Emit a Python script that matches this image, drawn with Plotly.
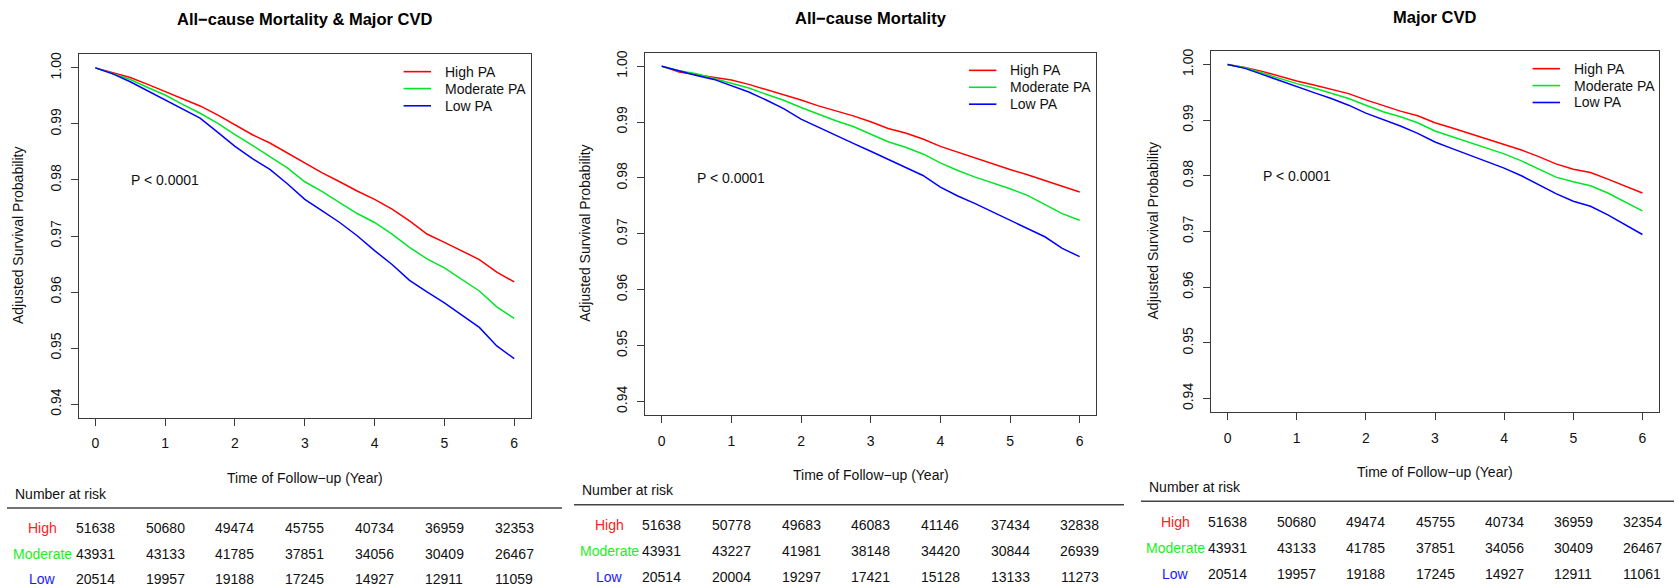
import plotly.graph_objects as go

# Follow-up grid (years) for the adjusted survival curves
years = [0, 0.25, 0.5, 0.75, 1, 1.25, 1.5, 1.75, 2, 2.25, 2.5, 2.75, 3,
         3.25, 3.5, 3.75, 4, 4.25, 4.5, 4.75, 5, 5.25, 5.5, 5.75, 6]

# All-cause mortality & major CVD
combined_high = [1.0, 0.99917, 0.99829, 0.99705, 0.99575, 0.99451, 0.99321, 0.99161, 0.98984,
                 0.98807, 0.98659, 0.98482, 0.98293, 0.98127, 0.97968, 0.97803, 0.97655,
                 0.97478, 0.97271, 0.97035, 0.96887, 0.96739, 0.96580, 0.96355, 0.9618]
combined_moderate = [1.0, 0.99900, 0.99793, 0.99651, 0.99516, 0.99350, 0.99191, 0.99014, 0.98807,
                     0.98618, 0.98423, 0.98216, 0.97968, 0.97791, 0.97596, 0.97401, 0.97241,
                     0.97035, 0.96798, 0.96592, 0.96432, 0.96219, 0.96019, 0.95735, 0.9553]
combined_low = [1.0, 0.99894, 0.99752, 0.99592, 0.99427, 0.99262, 0.99102, 0.98854, 0.98600,
                0.98381, 0.98187, 0.97933, 0.97655, 0.97448, 0.97241, 0.97005, 0.96739,
                0.96491, 0.96208, 0.96001, 0.95806, 0.95587, 0.95369, 0.95038, 0.9481]

# All-cause mortality
mortality_high = [1.0, 0.99893, 0.99846, 0.99804, 0.99751, 0.99674, 0.99585, 0.99496, 0.99395,
                  0.99289, 0.99200, 0.99111, 0.99004, 0.98886, 0.98803, 0.98696, 0.98565,
                  0.98459, 0.98352, 0.98251, 0.98151, 0.98056, 0.97955, 0.97848, 0.97747]
mortality_moderate = [1.0, 0.99917, 0.99864, 0.99781, 0.99704, 0.99609, 0.99496, 0.99389, 0.99259,
                      0.99140, 0.99022, 0.98921, 0.98785, 0.98648, 0.98548, 0.98429, 0.98269,
                      0.98133, 0.98014, 0.97913, 0.97807, 0.97688, 0.97522, 0.97362, 0.97243]
mortality_low = [1.0, 0.99911, 0.99834, 0.99763, 0.99656, 0.99538, 0.99395, 0.99241, 0.99052,
                 0.98903, 0.98767, 0.98619, 0.98477, 0.98328, 0.98192, 0.98044, 0.97836,
                 0.97676, 0.97540, 0.97392, 0.97243, 0.97107, 0.96947, 0.96740, 0.96591]

# Major CVD
cvd_high = [1.0, 0.99946, 0.99875, 0.99786, 0.99702, 0.99631, 0.99548, 0.99476, 0.99363,
            0.99256, 0.99161, 0.99077, 0.98952, 0.98857, 0.98762, 0.98667, 0.98571,
            0.98464, 0.98345, 0.98214, 0.98119, 0.98060, 0.97940, 0.97821, 0.97691]
cvd_moderate = [1.0, 0.99940, 0.99845, 0.99744, 0.99655, 0.99577, 0.99488, 0.99387, 0.99268,
                0.99149, 0.99060, 0.98952, 0.98804, 0.98702, 0.98595, 0.98506, 0.98393,
                0.98268, 0.98125, 0.97976, 0.97893, 0.97821, 0.97690, 0.97524, 0.97370]
cvd_low = [1.0, 0.99929, 0.99821, 0.99708, 0.99607, 0.99494, 0.99387, 0.99268, 0.99125,
           0.99012, 0.98893, 0.98762, 0.98607, 0.98488, 0.98375, 0.98256, 0.98137,
           0.98000, 0.97839, 0.97679, 0.97542, 0.97452, 0.97298, 0.97125, 0.96946]

# Number at risk table
risk_years = [0, 1, 2, 3, 4, 5, 6]
combined_risk_high = [51638, 50680, 49474, 45755, 40734, 36959, 32353]
combined_risk_moderate = [43931, 43133, 41785, 37851, 34056, 30409, 26467]
combined_risk_low = [20514, 19957, 19188, 17245, 14927, 12911, 11059]
mortality_risk_high = [51638, 50778, 49683, 46083, 41146, 37434, 32838]
mortality_risk_moderate = [43931, 43227, 41981, 38148, 34420, 30844, 26939]
mortality_risk_low = [20514, 20004, 19297, 17421, 15128, 13133, 11273]
cvd_risk_high = [51638, 50680, 49474, 45755, 40734, 36959, 32354]
cvd_risk_moderate = [43931, 43133, 41785, 37851, 34056, 30409, 26467]
cvd_risk_low = [20514, 19957, 19188, 17245, 14927, 12911, 11061]

group_names = ["High PA", "Moderate PA", "Low PA"]
row_labels = ["High", "Moderate", "Low"]
y_ticks = [0.94, 0.95, 0.96, 0.97, 0.98, 0.99, 1.00]
y_tick_text = ["0.94", "0.95", "0.96", "0.97", "0.98", "0.99", "1.00"]
panel_titles = ["All\u2212cause Mortality & Major CVD", "All\u2212cause Mortality", "Major CVD"]

W, H = 1679, 587
FONT = "Liberation Sans, Arial, sans-serif"
COLORS = ["#ff0000", "#00e626", "#0000ff"]
LABEL_COLORS = ["#ff2020", "#22ee22", "#1a1aff"]


def px(x):
    return x / W


def py(y):
    return 1 - y / H


# Pixel geometry of each panel: plot box, legend key, table rows and text anchors
panels = [
    dict(curves=[combined_high, combined_moderate, combined_low],
         risk=[combined_risk_high, combined_risk_moderate, combined_risk_low],
         box=(78.6, 51.7, 531.0, 416.7), title_y=16, xtitle_y=477.7, ytitle_x=18,
         nar=(13.2, 493.3), rule=(7, 562, 507.7), label_x=42, rows=(527.5, 553.5, 578.5),
         key=(403.6, 431.0, 442.9, (69, 86, 103.3))),
    dict(curves=[mortality_high, mortality_moderate, mortality_low],
         risk=[mortality_risk_high, mortality_risk_moderate, mortality_risk_low],
         box=(645.0, 50.0, 1096.4, 414.0), title_y=15, xtitle_y=474.3, ytitle_x=585,
         nar=(580, 490), rule=(574, 1124, 504.3), label_x=609, rows=(525, 551, 577.3),
         key=(969.0, 996.4, 1008.0, (67.7, 84.7, 101.7))),
    dict(curves=[cvd_high, cvd_moderate, cvd_low],
         risk=[cvd_risk_high, cvd_risk_moderate, cvd_risk_low],
         box=(1211.0, 48.3, 1659.0, 411.0), title_y=14, xtitle_y=471, ytitle_x=1153,
         nar=(1147, 486.7), rule=(1141, 1674, 500.7), label_x=1175.4, rows=(521.7, 547.7, 574),
         key=(1532.6, 1560.0, 1571.9, (66, 83, 100))),
]

fig = go.Figure()
annotations = []
shapes = []
text_font = dict(family=FONT, size=14, color="#111")

for i, p in enumerate(panels):
    n = "" if i == 0 else str(i + 1)
    xa, ya = "x" + n, "y" + n
    x0, y0, x1, y1 = p["box"]

    for g in range(3):
        fig.add_trace(go.Scatter(
            x=years, y=p["curves"][g], mode="lines", name=group_names[g],
            line=dict(color=COLORS[g], width=1.5), xaxis=xa, yaxis=ya,
            showlegend=False, hoverinfo="skip"))

    axis_common = dict(showgrid=False, zeroline=False, showline=True, mirror=True,
                       linecolor="#3a3a3a", linewidth=1.2, ticks="outside", ticklen=7,
                       tickwidth=1, tickcolor="#3a3a3a", tickfont=text_font)
    fig.update_layout({
        "xaxis" + n: dict(domain=[px(x0), px(x1)], range=[-0.24, 6.24],
                          tickvals=risk_years, ticktext=[str(v) for v in risk_years],
                          anchor=ya, ticklabelstandoff=6, **axis_common),
        "yaxis" + n: dict(domain=[py(y1), py(y0)], range=[0.9376, 1.0024],
                          tickvals=y_ticks, ticktext=y_tick_text, tickangle=-90,
                          anchor=xa, ticklabelstandoff=4, **axis_common),
    })

    # Legend key: coloured line sample and group name for each curve
    kx0, kx1, ktx, krows = p["key"]
    for g in range(3):
        shapes.append(dict(type="line", xref="paper", yref="paper", x0=px(kx0), x1=px(kx1),
                           y0=py(krows[g]), y1=py(krows[g]),
                           line=dict(color=COLORS[g], width=1.6)))
        annotations.append(dict(text=group_names[g], x=px(ktx), y=py(krows[g]),
                                xref="paper", yref="paper", showarrow=False, font=text_font,
                                xanchor="left", yanchor="middle"))

    cx = (x0 + x1) / 2
    annotations.append(dict(text="<b>" + panel_titles[i] + "</b>", x=px(cx), y=py(p["title_y"]),
                            xref="paper", yref="paper", showarrow=False,
                            font=dict(family=FONT, size=16.5, color="#000"),
                            xanchor="center", yanchor="middle"))
    annotations.append(dict(text="Time of Follow\u2212up (Year)", x=px(cx), y=py(p["xtitle_y"]),
                            xref="paper", yref="paper", showarrow=False, font=text_font,
                            xanchor="center", yanchor="middle"))
    annotations.append(dict(text="Adjusted Survival Probability", x=px(p["ytitle_x"]),
                            y=py((y0 + y1) / 2), xref="paper", yref="paper", showarrow=False,
                            textangle=-90, font=text_font,
                            xanchor="center", yanchor="middle"))
    annotations.append(dict(text="P < 0.0001", x=1, y=0.98, xref=xa, yref=ya, showarrow=False,
                            font=text_font, xanchor="center", yanchor="middle"))
    annotations.append(dict(text="Number at risk", x=px(p["nar"][0]), y=py(p["nar"][1]),
                            xref="paper", yref="paper", showarrow=False, font=text_font,
                            xanchor="left", yanchor="middle"))
    rx0, rx1, ry = p["rule"]
    shapes.append(dict(type="line", xref="paper", yref="paper", x0=px(rx0), x1=px(rx1),
                       y0=py(ry), y1=py(ry), line=dict(color="#444", width=1.5)))

    for g in range(3):
        row_y = py(p["rows"][g])
        annotations.append(dict(text=row_labels[g], x=px(p["label_x"]), y=row_y,
                                xref="paper", yref="paper", showarrow=False,
                                font=dict(family=FONT, size=14, color=LABEL_COLORS[g]),
                                xanchor="center", yanchor="middle"))
        for t, count in zip(risk_years, p["risk"][g]):
            annotations.append(dict(text=str(count), x=t, y=row_y, xref=xa, yref="paper",
                                    showarrow=False, font=text_font,
                                    xanchor="center", yanchor="middle"))

fig.update_layout(width=W, height=H, autosize=False, margin=dict(l=0, r=0, t=0, b=0),
                  paper_bgcolor="white", plot_bgcolor="white", showlegend=False,
                  annotations=annotations, shapes=shapes)

fig.write_html("out.html")
